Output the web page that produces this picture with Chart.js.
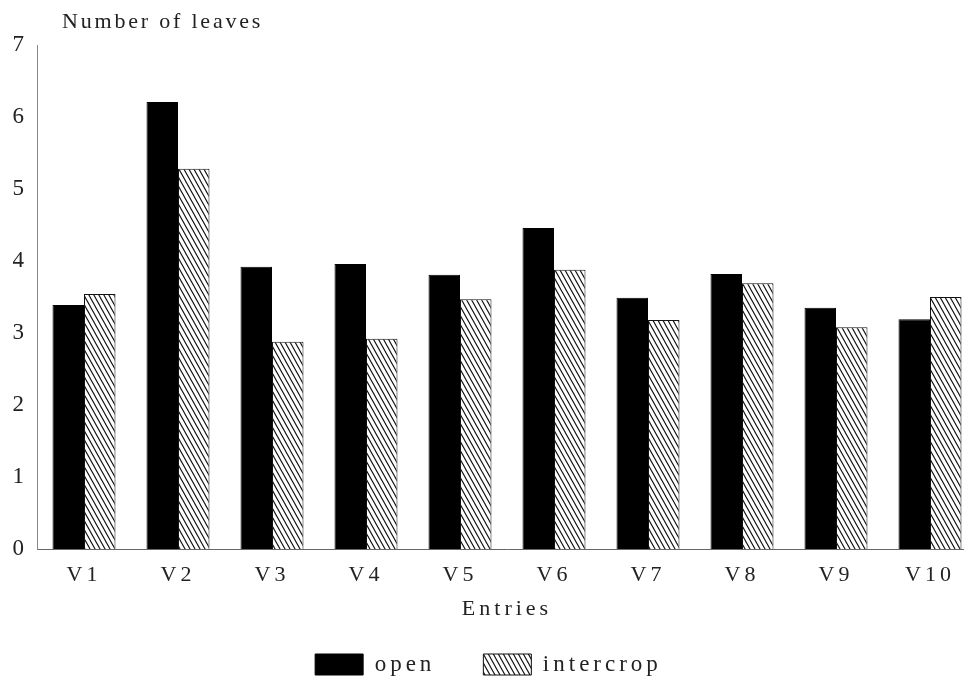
<!DOCTYPE html>
<html>
<head>
<meta charset="utf-8">
<script src="https://cdn.jsdelivr.net/npm/chart.js@4.4.0/dist/chart.umd.min.js"></script>
<style>
  html, body { margin: 0; padding: 0; background: #fff; overflow: hidden; }
  canvas { display: block; }
</style>
</head>
<body>
<canvas id="leaves" width="1010" height="682"></canvas>
<script>
// values
var categories = ['V1', 'V2', 'V3', 'V4', 'V5', 'V6', 'V7', 'V8', 'V9', 'V10'];
var openValues = [3.39, 6.21, 3.92, 3.96, 3.81, 4.46, 3.49, 3.82, 3.35, 3.19];
var intercropValues = [3.54, 5.28, 2.88, 2.92, 3.47, 3.88, 3.18, 3.69, 3.08, 3.50];
var yTicks = [0, 1, 2, 3, 4, 5, 6, 7];

var serif = '"Liberation Serif", "DejaVu Serif", serif';

function makeHatch() {
    var c = document.createElement('canvas');
    c.width = 5;
    c.height = 9;
    var g = c.getContext('2d');
    g.fillStyle = '#fff';
    g.fillRect(0, 0, 5, 9);
    g.strokeStyle = '#111';
    g.lineWidth = 1.1;
    g.beginPath();
    for (var k = -1; k <= 1; k++) {
        g.moveTo(-5 + k * 5, -9);
        g.lineTo(10 + k * 5, 18);
    }
    g.stroke();
    return g.createPattern(c, 'repeat');
}

// spaced-out lettering of the original
var spacing = {
    id: 'spacing',
    beforeLayout: function (chart) { chart.ctx.letterSpacing = '4px'; },
    beforeDraw: function (chart) { chart.ctx.letterSpacing = '4px'; }
};

var yTitle = {
    id: 'yTitle',
    afterDraw: function (chart) {
        var ctx = chart.ctx;
        ctx.save();
        ctx.letterSpacing = '2.8px';
        ctx.font = '22px ' + serif;
        ctx.fillStyle = '#222';
        ctx.textBaseline = 'middle';
        ctx.textAlign = 'left';
        ctx.fillText('Number of leaves', chart.chartArea.left + 25, 22);
        ctx.restore();
    }
};

var hatch = makeHatch();

new Chart(document.getElementById('leaves'), {
    type: 'bar',
    data: {
        labels: categories,
        datasets: [{
            label: 'open',
            data: openValues,
            backgroundColor: '#000',
            borderColor: '#000',
            borderWidth: 1
        }, {
            label: 'intercrop',
            data: intercropValues,
            backgroundColor: hatch,
            borderColor: '#111',
            borderWidth: 1
        }]
    },
    options: {
        responsive: false,
        animation: false,
        devicePixelRatio: 1,
        layout: {
            padding: { top: 45, left: 0, right: 33, bottom: -4 }
        },
        datasets: {
            bar: { categoryPercentage: 0.67, barPercentage: 1 }
        },
        scales: {
            x: {
                grid: { display: false, drawTicks: false },
                border: { display: true, color: '#666', width: 1 },
                ticks: {
                    padding: 13,
                    color: '#222',
                    font: { family: serif, size: 22 }
                },
                title: {
                    display: true,
                    text: 'Entries',
                    color: '#222',
                    padding: { top: 0, bottom: -17 },
                    font: { family: serif, size: 22 }
                },
                afterFit: function (s) { s.height = 56; }
            },
            y: {
                min: 0,
                max: 7,
                afterBuildTicks: function (s) {
                    s.ticks = yTicks.map(function (v) { return { value: v }; });
                },
                grid: { display: false, drawTicks: false },
                border: { display: true, color: '#888', width: 1, dash: [6, 3] },
                ticks: {
                    padding: 9,
                    color: '#222',
                    font: { family: serif, size: 23 }
                },
                afterFit: function (s) { s.width = 37; }
            }
        },
        plugins: {
            legend: {
                position: 'bottom',
                labels: {
                    boxWidth: 48,
                    boxHeight: 21,
                    padding: 48,
                    color: '#222',
                    font: { family: serif, size: 23 }
                }
            },
            tooltip: { enabled: false }
        }
    },
    plugins: [spacing, yTitle]
});
</script>
</body>
</html>
